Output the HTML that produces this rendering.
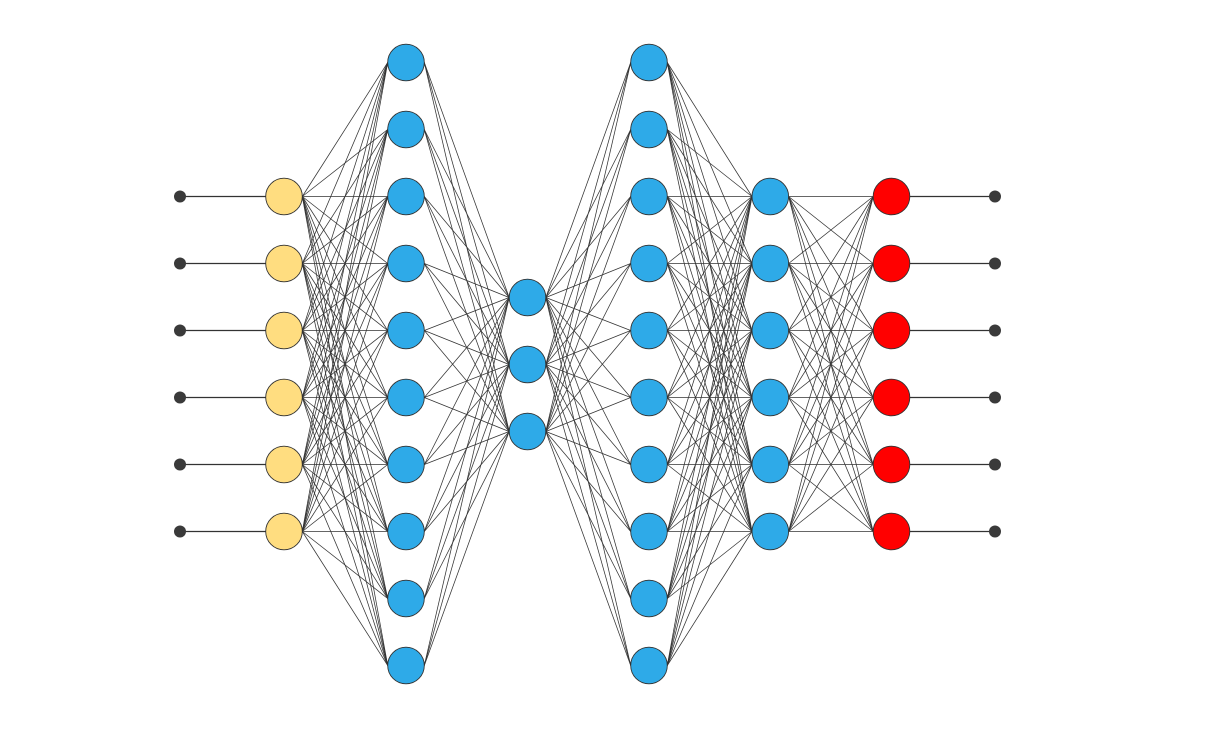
<!DOCTYPE html>
<html><head><meta charset="utf-8"><style>html,body{margin:0;padding:0;background:#fff;width:1215px;height:750px;overflow:hidden}</style></head>
<body>
<svg id="s" width="1215" height="750" xmlns="http://www.w3.org/2000/svg"></svg>
<script>
const s=document.getElementById('s');
const six=[196.5,263.5,330.5,397.5,464.5,531.5];
const ten=[];for(let i=0;i<10;i++)ten.push(62.5+67*i);
const three=[297.5,364.5,431.5];
const R=18.3;
const layers=[
 {x:284,ys:six,c:'#ffdd80'},
 {x:406,ys:ten,c:'#2eaae8'},
 {x:527.5,ys:three,c:'#2eaae8'},
 {x:649,ys:ten,c:'#2eaae8'},
 {x:770.3,ys:six,c:'#2eaae8'},
 {x:891.5,ys:six,c:'#ff0000'}];
let h='';
const ln=(x1,y1,x2,y2,w)=>h+=`<line x1="${x1}" y1="${y1}" x2="${x2}" y2="${y2}" stroke="#333" stroke-width="${w}"/>`;
for(let l=0;l<layers.length-1;l++){const a=layers[l],b=layers[l+1];
 for(const y1 of a.ys)for(const y2 of b.ys)ln(a.x+R,y1,b.x-R,y2,0.75);}
for(const y of six){ln(180,y,284-R,y,1.2);ln(891.5+R,y,995,y,1.2);
 h+=`<circle cx="180" cy="${y}" r="6" fill="#3a3a3a"/><circle cx="995" cy="${y}" r="6" fill="#3a3a3a"/>`;}
for(const L of layers)for(const y of L.ys)h+=`<circle cx="${L.x}" cy="${y}" r="${R}" fill="${L.c}" stroke="#333" stroke-width="0.9"/>`;
s.innerHTML=h;
</script>
</body></html>
